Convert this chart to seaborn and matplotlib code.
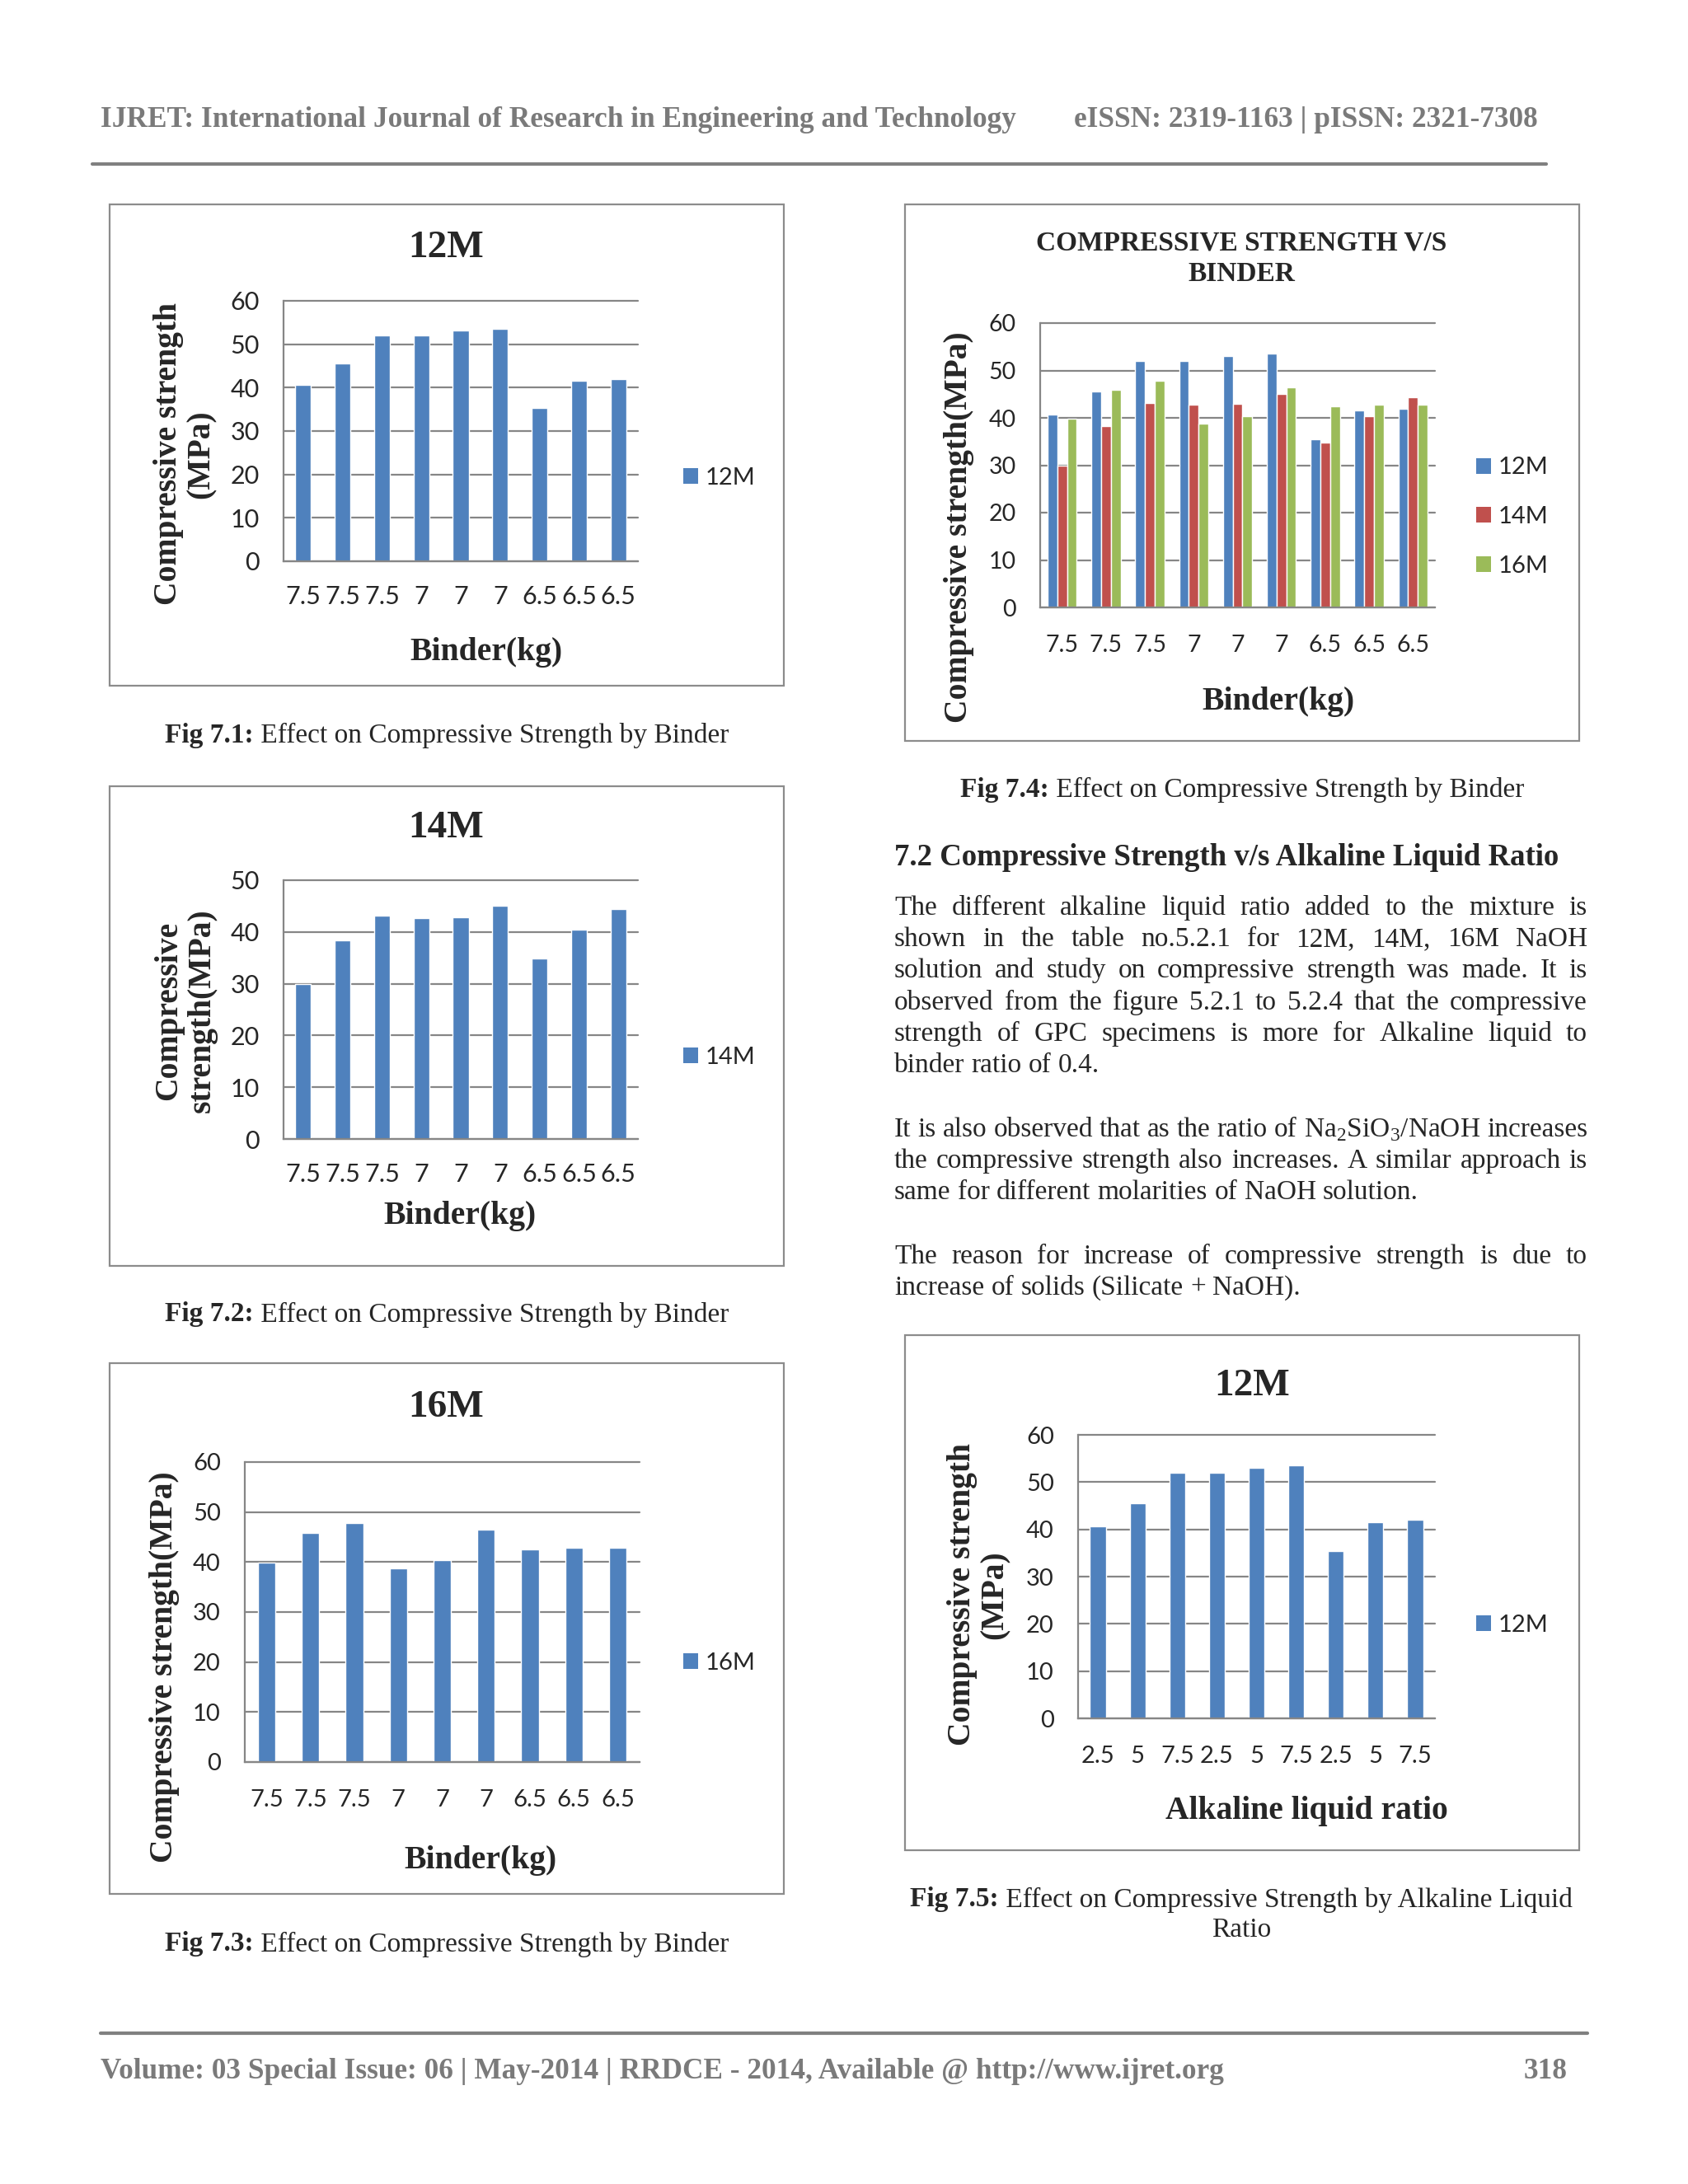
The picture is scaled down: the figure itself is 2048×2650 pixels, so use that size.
import numpy as np
import pandas as pd
import seaborn as sns
import matplotlib
matplotlib.use("Agg")
import matplotlib.pyplot as plt
from matplotlib.patches import Rectangle, Patch
from matplotlib.lines import Line2D

# values
binder_labels = ["7.5", "7.5", "7.5", "7", "7", "7", "6.5", "6.5", "6.5"]
ratio_labels = ["2.5", "5", "7.5", "2.5", "5", "7.5", "2.5", "5", "7.5"]
strength_12m = [40.7, 45.6, 52.0, 52.0, 53.1, 53.5, 35.4, 41.5, 42.0]
strength_14m = [29.9, 38.3, 43.1, 42.7, 42.9, 45.1, 34.8, 40.4, 44.4]
strength_16m = [39.9, 45.9, 47.8, 38.8, 40.4, 46.5, 42.5, 42.8, 42.8]

series_names = ["12M", "14M", "16M"]
series_colors = ["#4F81BD", "#C0504D", "#9BBB59"]

para1 = [
    "The different alkaline liquid ratio added to the mixture is",
    "shown in the table no.5.2.1 for 12M, 14M, 16M NaOH",
    "solution and study on compressive strength was made. It is",
    "observed from the figure 5.2.1 to 5.2.4 that the compressive",
    "strength of GPC specimens is more for Alkaline liquid to",
    "binder ratio of 0.4.",
]
para2 = [
    "It is also observed that as the ratio of Na$_2$SiO$_3$/NaOH increases",
    "the compressive strength also increases. A similar approach is",
    "same for different molarities of NaOH solution.",
]
para3 = [
    "The reason for increase of compressive strength is due to",
    "increase of solids (Silicate + NaOH).",
]

W, H = 2048, 2650
GRID = "#868686"
GREY_TXT = "#7a7a7a"

sns.set_style("white")
plt.rcParams["font.family"] = ["Liberation Serif", "DejaVu Serif"]
plt.rcParams["mathtext.fontset"] = "custom"
plt.rcParams["mathtext.rm"] = "Liberation Serif"

fig = plt.figure(figsize=(W / 100, H / 100), dpi=100)
fig.patch.set_facecolor("white")
renderer = fig.canvas.get_renderer()


def fx(x):
    return x / W


def fy(y):
    return 1 - y / H


def px_axes(x0, y0, x1, y1):
    return fig.add_axes([fx(x0), fy(y1), (x1 - x0) / W, (y1 - y0) / H])


def frame(x0, y0, x1, y1):
    fig.patches.append(Rectangle((fx(x0), fy(y1)), (x1 - x0) / W, (y1 - y0) / H,
                                 transform=fig.transFigure, fill=False,
                                 ec="#8c8c8c", lw=1.6))


def hline(x0, x1, y, lw=3.0, color="#808080"):
    fig.add_artist(Line2D([fx(x0), fx(x1)], [fy(y), fy(y)], color=color, lw=lw))


def ftext(x, y, s, **kw):
    return fig.text(fx(x), fy(y), s, **kw)


def bar_chart(rect, data, labels, colors, ytop, width, tick_size, xpad):
    ax = px_axes(*rect)
    frames = []
    for name, vals in data.items():
        frames.append(pd.DataFrame({"pos": range(len(vals)), "value": vals, "series": name}))
    df = pd.concat(frames, ignore_index=True)
    sns.barplot(data=df, x="pos", y="value", hue="series", hue_order=list(data),
                palette=colors, width=width, saturation=1, legend=False, ax=ax)
    ax.set_xlim(-0.5, len(labels) - 0.5)
    ax.set_ylim(0, ytop)
    ax.set_yticks(np.arange(0, ytop + 1, 10))
    ax.set_xticks(range(len(labels)))
    ax.set_xticklabels(labels)
    ax.set_xlabel("")
    ax.set_ylabel("")
    ax.yaxis.grid(True, color=GRID, lw=1.6)
    for gl in ax.get_ygridlines():
        gl.set_clip_on(False)
    ax.set_axisbelow(True)
    for s in ["top", "right"]:
        ax.spines[s].set_visible(False)
    for s in ["left", "bottom"]:
        ax.spines[s].set_color(GRID)
        ax.spines[s].set_linewidth(1.6)
    ax.tick_params(axis="y", length=8, width=1.6, color=GRID, pad=13,
                   labelsize=tick_size, labelcolor="#262626")
    ax.tick_params(axis="x", length=0, pad=xpad, labelsize=tick_size, labelcolor="#262626")
    for lab in ax.get_xticklabels() + ax.get_yticklabels():
        lab.set_fontfamily("Lato")
    return ax


def chart_legend(ax, names, colors, x, y, size):
    handles = [Patch(fc=c, ec="none") for c in colors]
    ax.legend(handles, names, loc="center left", bbox_to_anchor=(fx(x), fy(y)),
              bbox_transform=fig.transFigure, frameon=False,
              prop={"family": "Lato", "size": size}, handlelength=0.62,
              handleheight=0.62, handletextpad=0.3, labelspacing=1.15,
              borderpad=0, borderaxespad=0)


def caption(x_split, y, bold, rest, size=24):
    ftext(x_split, y, bold, ha="right", va="center", fontsize=size, fontweight="bold")
    ftext(x_split, y, " " + rest, ha="left", va="center", fontsize=size)


def paragraph(lines, x0, x1, ys, size=24):
    space = size * 0.25 * 100 / 72
    for i, (line, y) in enumerate(zip(lines, ys)):
        words = line.split(" ")
        texts = [ftext(0, y + 10, w, fontsize=size, va="baseline", ha="left") for w in words]
        widths = [t.get_window_extent(renderer).width for t in texts]
        last = i == len(lines) - 1
        gap = space if last else (x1 - x0 - sum(widths)) / (len(words) - 1)
        x = x0
        for t, w in zip(texts, widths):
            t.set_x(fx(x))
            x += w + gap


# header / footer
HDR = 25.4
ftext(122, 145, "IJRET: International Journal of Research in Engineering and Technology",
      fontsize=HDR, fontweight="bold", color=GREY_TXT, va="center")
ftext(1866, 145, "eISSN: 2319-1163 | pISSN: 2321-7308",
      fontsize=HDR, fontweight="bold", color=GREY_TXT, va="center", ha="right")
hline(112, 1876, 199)
hline(122, 1926, 2467)
ftext(122, 2514, "Volume: 03 Special Issue: 06 | May-2014 | RRDCE - 2014, Available @ http://www.ijret.org",
      fontsize=HDR, fontweight="bold", color=GREY_TXT, va="center")
ftext(1901, 2514, "318", fontsize=HDR, fontweight="bold", color=GREY_TXT, va="center", ha="right")

TITLE = 34
AXL = 28.5

# Fig 7.1
frame(133, 248, 951, 832)
ax1 = bar_chart((344, 365, 774, 681), {"12M": strength_12m}, binder_labels,
                [series_colors[0]], 60, 0.4, 22, 21)
chart_legend(ax1, ["12M"], [series_colors[0]], 829, 580, 21)
ftext(541, 301, "12M", ha="center", va="center", fontsize=TITLE, fontweight="bold")
ftext(224, 551, "Compressive strength\n(MPa)", ha="center", va="center", rotation=90,
      fontsize=AXL, fontweight="bold", linespacing=1.1)
ftext(590, 791, "Binder(kg)", ha="center", va="center", fontsize=AXL, fontweight="bold")
caption(308, 892, "Fig 7.1:", "Effect on Compressive Strength by Binder")

# Fig 7.2
frame(133, 954, 951, 1536)
ax2 = bar_chart((344, 1068, 774, 1382), {"14M": strength_14m}, binder_labels,
                [series_colors[0]], 50, 0.4, 22, 21)
chart_legend(ax2, ["14M"], [series_colors[0]], 829, 1283, 21)
ftext(541, 1005, "14M", ha="center", va="center", fontsize=TITLE, fontweight="bold")
ftext(225, 1226, "Compressive\nstrength(MPa)", ha="center", va="center", rotation=90,
      fontsize=AXL, fontweight="bold", linespacing=1.12)
ftext(558, 1475, "Binder(kg)", ha="center", va="center", fontsize=AXL, fontweight="bold")
caption(308, 1595, "Fig 7.2:", "Effect on Compressive Strength by Binder")

# Fig 7.3
frame(133, 1654, 951, 2298)
ax3 = bar_chart((297, 1774, 776, 2138), {"16M": strength_16m}, binder_labels,
                [series_colors[0]], 60, 0.4, 21, 24)
chart_legend(ax3, ["16M"], [series_colors[0]], 829, 2018, 21)
ftext(541, 1708, "16M", ha="center", va="center", fontsize=TITLE, fontweight="bold")
ftext(199, 2023, "Compressive strength(MPa)", ha="center", va="center", rotation=90,
      fontsize=AXL, fontweight="bold")
ftext(583, 2257, "Binder(kg)", ha="center", va="center", fontsize=AXL, fontweight="bold")
caption(308, 2359, "Fig 7.3:", "Effect on Compressive Strength by Binder")

# Fig 7.4
frame(1098, 248, 1916, 899)
ax4 = bar_chart((1262, 392, 1741, 737),
                {"12M": strength_12m, "14M": strength_14m, "16M": strength_16m},
                binder_labels, series_colors, 60, 0.667, 20.5, 24)
chart_legend(ax4, series_names, series_colors, 1791, 627, 21)
ftext(1506, 314, "COMPRESSIVE STRENGTH V/S\nBINDER", ha="center", va="center",
      fontsize=24, fontweight="bold", linespacing=1.28)
ftext(1163, 640, "Compressive strength(MPa)", ha="center", va="center", rotation=90,
      fontsize=AXL, fontweight="bold")
ftext(1551, 851, "Binder(kg)", ha="center", va="center", fontsize=AXL, fontweight="bold")
caption(1273, 958, "Fig 7.4:", "Effect on Compressive Strength by Binder")

# section text
ftext(1085, 1040, "7.2 Compressive Strength v/s Alkaline Liquid Ratio",
      ha="left", va="center", fontsize=26.6, fontweight="bold")
paragraph(para1, 1085, 1926, [1100, 1138, 1176, 1215, 1253, 1291])
paragraph(para2, 1085, 1926, [1369, 1407, 1445])
paragraph(para3, 1085, 1926, [1523, 1561])

# Fig 7.5
frame(1098, 1620, 1916, 2245)
ax5 = bar_chart((1308, 1741, 1741, 2085), {"12M": strength_12m}, ratio_labels,
                [series_colors[0]], 60, 0.4, 21, 24)
chart_legend(ax5, ["12M"], [series_colors[0]], 1791, 1972, 21)
ftext(1519, 1682, "12M", ha="center", va="center", fontsize=TITLE, fontweight="bold")
ftext(1187, 1935, "Compressive strength\n(MPa)", ha="center", va="center", rotation=90,
      fontsize=AXL, fontweight="bold", linespacing=1.1)
ftext(1585, 2198, "Alkaline liquid ratio", ha="center", va="center", fontsize=AXL,
      fontweight="bold")
caption(1212, 2305, "Fig 7.5:", "Effect on Compressive Strength by Alkaline Liquid")
ftext(1506, 2342, "Ratio", ha="center", va="center", fontsize=24)

fig.savefig("out.png", dpi=100, facecolor="white")
